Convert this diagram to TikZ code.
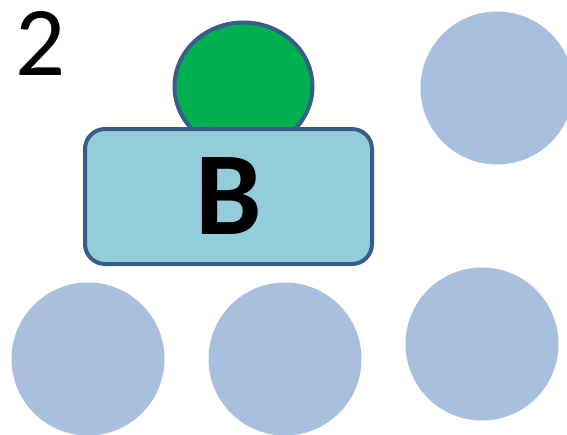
\documentclass[tikz,border=0pt]{standalone}
\usepackage{fontspec}
\setmainfont{Carlito}
\usepackage{tikz}
\usetikzlibrary{shapes.geometric}
\definecolor{seat}{RGB}{168,192,222}
\definecolor{rim}{RGB}{56,93,138}
\definecolor{lid}{RGB}{146,205,220}
\definecolor{head}{RGB}{0,176,80}

\begin{document}
\begin{tikzpicture}[x=.75pt,y=-.75pt,
  seat/.style={circle,fill=seat,inner sep=0pt,minimum size=114.75pt},
  rimmed/.style={draw=rim,line width=3pt,inner sep=0pt}]
\useasboundingbox (0,0) rectangle (567,435);
\clip (0,0) rectangle (567,435);
\foreach \n/\x/\y in {ta/497/88,ba/88/359,bb/285/359,bc/482/344} {\node[seat] (\n) at (\x,\y) {};}
\node[rimmed,fill=head,ellipse,minimum width=103.5pt,minimum height=96pt] (dome) at (243.5,86.5) {};
\node[rimmed,fill=lid,rounded corners=15pt,minimum width=215.25pt,minimum height=101.25pt,
  font=\fontsize{89}{89}\bfseries\selectfont] (bench) at (228.5,196.5) {B};
\node[inner sep=0pt,font=\fontsize{74}{74}\selectfont] (num) at (41,43) {2};
\end{tikzpicture}
\end{document}
